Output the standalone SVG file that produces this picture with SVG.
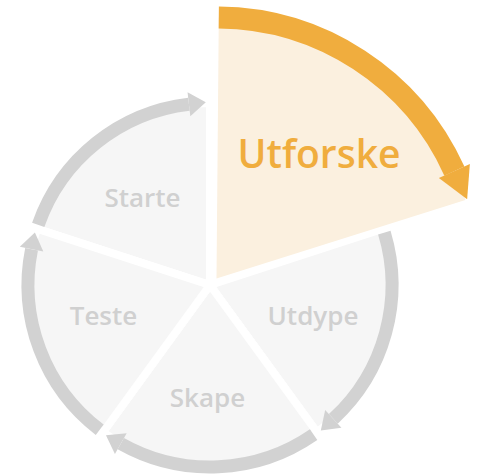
<svg xmlns="http://www.w3.org/2000/svg" width="482" height="475" viewBox="0 0 482 475">
<defs>
<style>
.sector{fill:#f6f6f6;stroke:#ffffff;stroke-width:8;stroke-linejoin:miter}
.ring{fill:none;stroke:#d2d2d2;stroke-width:13}
.lbl{font-family:"Open Sans","Liberation Sans",sans-serif;font-size:26px;font-weight:600;fill:#d0d0d0;text-anchor:middle}
.hl{fill:#fbf0df}
.hring{fill:none;stroke:#f0ad3e;stroke-width:22}
.hlbl{font-family:"Open Sans","Liberation Sans",sans-serif;font-size:39px;font-weight:600;fill:#f0ad3e;text-anchor:middle}
</style>
<marker id="gh" markerUnits="userSpaceOnUse" markerWidth="17" markerHeight="24" viewBox="0 -12 17 24" refX="0" refY="0" orient="auto" overflow="visible">
<path d="M0,-12 L17,0 L0,12 Z" fill="#d2d2d2"/>
</marker>
<marker id="oh" markerUnits="userSpaceOnUse" markerWidth="31" markerHeight="34" viewBox="0 -17 31 34" refX="0" refY="0" orient="auto" overflow="visible">
<path d="M0,-17 L31,0 L0,17 Z" fill="#f0ad3e"/>
</marker>
</defs>
<g id="starte">
<path class="sector" d="M210,285 L36.91,228.76 A182,182 0 0 1 210,103 Z"/>
<text class="lbl" x="142.5" y="207">Starte</text>
</g>
<g id="utdype">
<path class="sector" d="M210,285 L383.09,228.76 A182,182 0 0 1 316.98,432.24 Z"/>
<text class="lbl" x="313" y="325">Utdype</text>
</g>
<g id="skape">
<path class="sector" d="M210,285 L316.98,432.24 A182,182 0 0 1 103.02,432.24 Z"/>
<text class="lbl" x="207.5" y="407">Skape</text>
</g>
<g id="teste">
<path class="sector" d="M210,285 L103.02,432.24 A182,182 0 0 1 36.91,228.76 Z"/>
<text class="lbl" x="103.5" y="325">Teste</text>
</g>
<g id="utforske">
<path class="hl" d="M216.5,278.5 L218.78,17.51 A261,261 0 0 1 465.42,200.01 Z"/>
<text class="hlbl" x="319" y="168">Utforske</text>
</g>
<g id="connectors">
<path class="ring" d="M38.23,224.85 A182,182 0 0 1 188.93,104.22" marker-end="url(#gh)"/>
<path class="ring" d="M384.32,232.70 A182,182 0 0 1 333.31,418.86" marker-end="url(#gh)"/>
<path class="ring" d="M313.61,434.63 A182,182 0 0 1 120.79,443.64" marker-end="url(#gh)"/>
<path class="ring" d="M99.71,429.78 A182,182 0 0 1 31.56,249.18" marker-end="url(#gh)"/>
<path class="hring" d="M218.78,17.51 A261,261 0 0 1 454.38,171.10" marker-end="url(#oh)"/>
</g>
</svg>
